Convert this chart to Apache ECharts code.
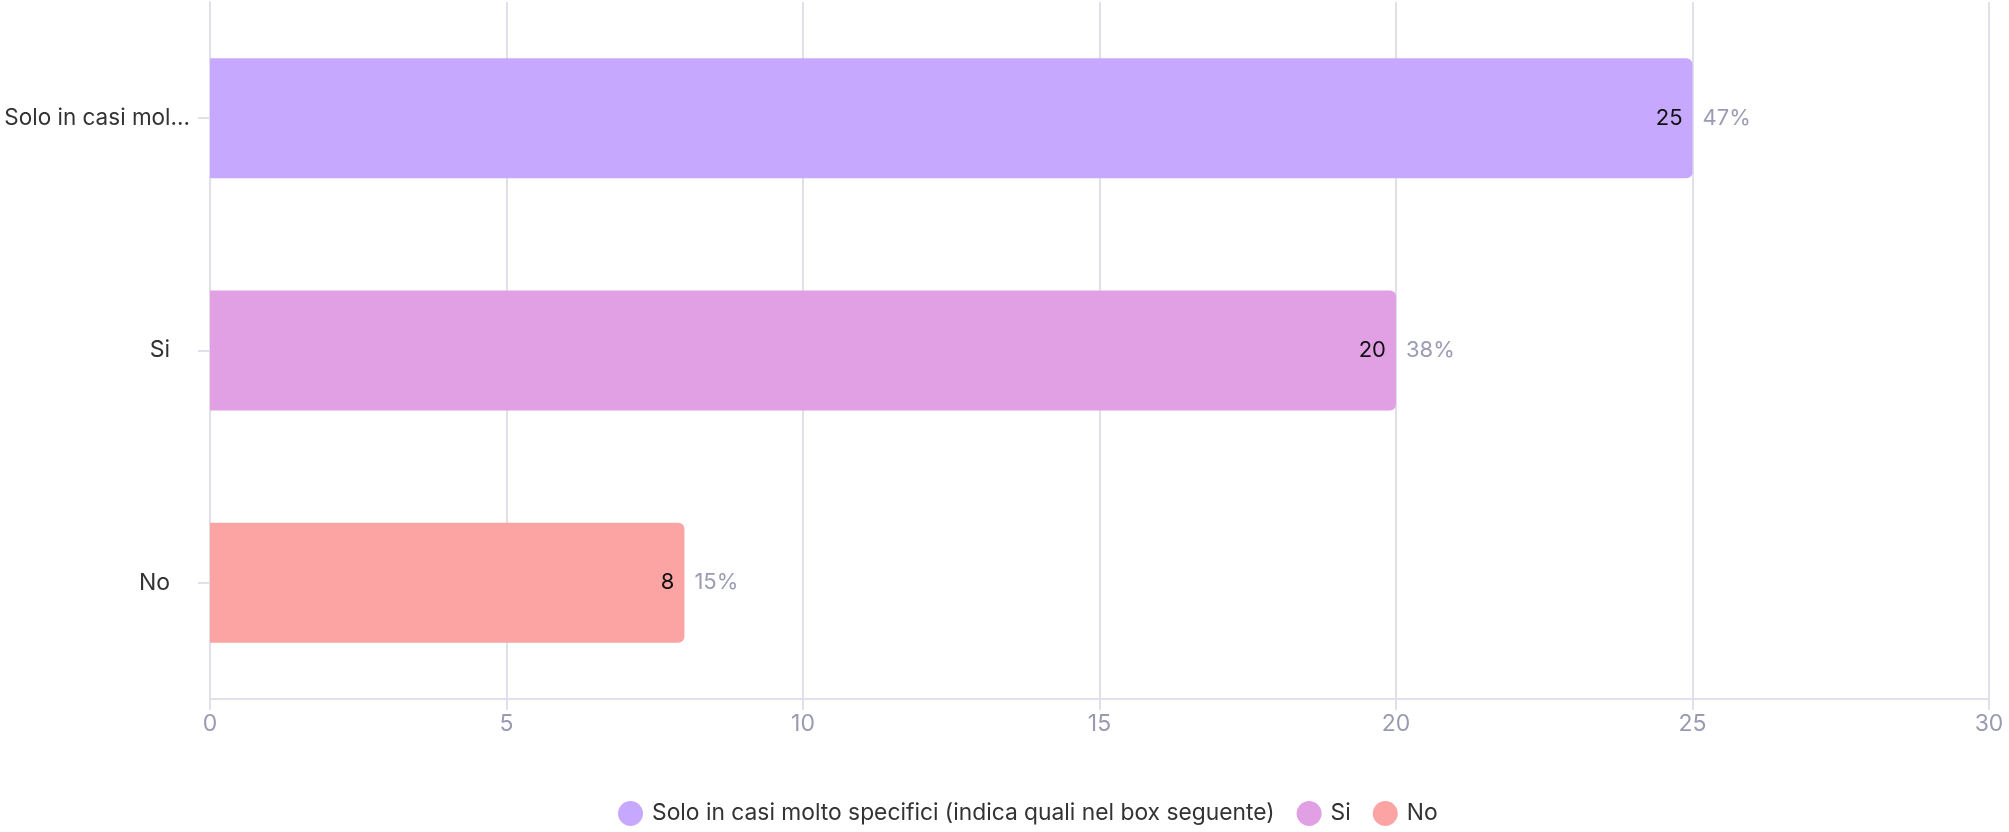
<!DOCTYPE html>
<html>
<head>
<meta charset="utf-8">
<script src="https://cdn.jsdelivr.net/npm/echarts@6/dist/echarts.min.js"></script>
<style>
  html, body { margin: 0; padding: 0; background: #fff; }
  #chart { width: 2009px; height: 832px; }
</style>
</head>
<body>
<div id="chart"></div>
<script>
    // dati
    var categories = ['Solo in casi molto specifici (indica quali nel box seguente)', 'Si', 'No'];
    var values = [25, 20, 8];
    var percents = [47, 38, 15];
    var colors = ['#c6a9fe', '#e2a0e4', '#fca3a3'];
    var xTicks = [0, 5, 10, 15, 20, 25, 30];

    var font = 'Inter';
    var myChart = echarts.init(document.getElementById('chart'));

    // una serie per categoria (per la legenda), tutte nello stesso stack
    var series = categories.map(function (name, i) {
        var d = values.map(function (v, j) { return j === i ? v : '-'; });
        return {
            name: name,
            type: 'bar',
            stack: 'tot',
            barWidth: 120,
            barGap: '-100%',
            data: d,
            itemStyle: { color: colors[i], borderRadius: [0, 6, 6, 0] },
            label: {
                show: true,
                position: 'insideRight',
                distance: 10,
                color: '#111',
                fontFamily: font,
                fontSize: 22
            }
        };
    });

    // serie trasparente per le percentuali
    series.push({
        name: 'pct',
        type: 'bar',
        barWidth: 120,
        barGap: '-100%',
        silent: true,
        data: values,
        itemStyle: { color: 'rgba(0,0,0,0)' },
        label: {
            show: true,
            position: 'right',
            distance: 10,
            color: '#9b9bb4',
            fontFamily: font,
            fontSize: 22,
            formatter: function (p) { return percents[p.dataIndex] + '%'; }
        }
    });

    var option = {
        animation: false,
        textStyle: { fontFamily: font },
        grid: { left: 210, right: 20, top: 2, bottom: 133, outerBoundsMode: 'none' },
        legend: {
            data: categories,
            left: 613,
            bottom: 1,
            icon: 'circle',
            itemWidth: 25,
            itemHeight: 25,
            itemGap: 22,
            textStyle: { color: '#333', fontSize: 22.8, fontFamily: font, padding: [0, 0, 0, 4] }
        },
        xAxis: {
            type: 'value',
            min: xTicks[0],
            max: xTicks[xTicks.length - 1],
            interval: 5,
            axisLine: { show: true, lineStyle: { color: '#e0e0ea', width: 2 } },
            axisTick: { show: true, length: 11, lineStyle: { color: '#e0e0ea', width: 2 } },
            splitLine: { show: true, lineStyle: { color: '#e0e0ea', width: 2 } },
            axisLabel: { color: '#9a9ab3', fontSize: 23, margin: 14, fontFamily: font }
        },
        yAxis: {
            type: 'category',
            inverse: true,
            data: categories,
            axisLine: { show: true, lineStyle: { color: '#e0e0ea', width: 2 } },
            axisTick: { show: true, alignWithLabel: true, length: 12, lineStyle: { color: '#e0e0ea', width: 2 } },
            axisLabel: {
                color: '#333',
                fontSize: 22.5,
                fontFamily: font,
                margin: 20,
                width: 190,
                overflow: 'truncate',
                ellipsis: '...',
                formatter: function (v) {
                    return v.length > 20 ? v : '{s|' + v + '}';
                },
                rich: {
                    s: { color: '#333', fontSize: 23, fontFamily: font, padding: [0, 20, 0, 0] }
                }
            }
        },
        series: series
    };
    myChart.setOption(option);
</script>
</body>
</html>
